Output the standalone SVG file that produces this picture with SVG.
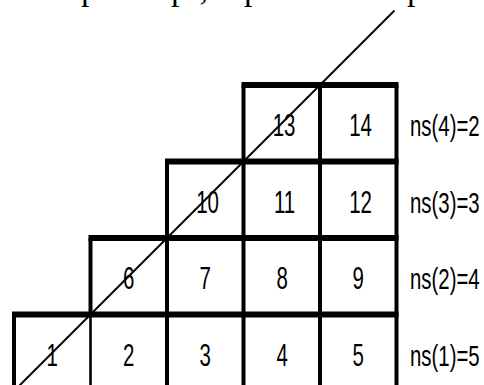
<svg xmlns="http://www.w3.org/2000/svg" width="484" height="385" viewBox="0 0 484 385">
<style>
.num{font-family:"Liberation Sans",Arial,sans-serif;font-size:31px;fill:#000;text-anchor:middle}
.lbl{font-family:"Liberation Sans",Arial,sans-serif;font-size:30px;fill:#000;text-anchor:start}
.frag{font-family:"Liberation Serif","Times New Roman",serif;font-size:34px;fill:#000}
.h{fill:#000}
.cell{fill:none;stroke:none}
</style>
<rect width="484" height="385" fill="#fff"/>
<g id="top-fragments">
<text class="frag" x="81" y="-0.5">p</text>
<text class="frag" x="171" y="-0.5">p</text>
<text class="frag" x="199.5" y="-0.5">,</text>
<text class="frag" x="244" y="-0.5">p</text>
<text class="frag" x="407" y="-0.5">p</text>
</g>
<g id="grid">
<rect class="h" x="241.5" y="82" width="157" height="6"/>
<rect class="h" x="165" y="158.5" width="233.5" height="6"/>
<rect class="h" x="88.5" y="235" width="310" height="6"/>
<rect class="h" x="12" y="311.5" width="386.5" height="6"/>
<rect class="h" x="12" y="314.5" width="4" height="80"/>
<rect class="h" x="89.2" y="314.5" width="2.6" height="80"/>
<rect class="h" x="88.5" y="238" width="4" height="78"/>
<rect class="h" x="165" y="161.5" width="4" height="233"/>
<rect class="h" x="241.5" y="85" width="4" height="310"/>
<rect class="h" x="318" y="85" width="4" height="310"/>
<rect class="h" x="394.5" y="85" width="4" height="310"/>
</g>
<g id="c1"><rect class="cell" x="14" y="314.5" width="76.5" height="76.5"/><text class="num" transform="translate(52.25,365.5) scale(0.66,1)">1</text></g>
<g id="c2"><rect class="cell" x="90.5" y="314.5" width="76.5" height="76.5"/><text class="num" transform="translate(128.75,365.5) scale(0.66,1)">2</text></g>
<g id="c3"><rect class="cell" x="167" y="314.5" width="76.5" height="76.5"/><text class="num" transform="translate(205.25,365.5) scale(0.66,1)">3</text></g>
<g id="c4"><rect class="cell" x="243.5" y="314.5" width="76.5" height="76.5"/><text class="num" transform="translate(282.25,365.5) scale(0.66,1)">4</text></g>
<g id="c5"><rect class="cell" x="320" y="314.5" width="76.5" height="76.5"/><text class="num" transform="translate(358.25,365.5) scale(0.66,1)">5</text></g>
<g id="c6"><rect class="cell" x="90.5" y="238" width="76.5" height="76.5"/><text class="num" transform="translate(128.75,289) scale(0.66,1)">6</text></g>
<g id="c7"><rect class="cell" x="167" y="238" width="76.5" height="76.5"/><text class="num" transform="translate(205.25,289) scale(0.66,1)">7</text></g>
<g id="c8"><rect class="cell" x="243.5" y="238" width="76.5" height="76.5"/><text class="num" transform="translate(282.25,289) scale(0.66,1)">8</text></g>
<g id="c9"><rect class="cell" x="320" y="238" width="76.5" height="76.5"/><text class="num" transform="translate(358.25,289) scale(0.66,1)">9</text></g>
<g id="c10"><rect class="cell" x="167" y="161.5" width="76.5" height="76.5"/><text class="num" transform="translate(207.5,212.5) scale(0.66,1)">10</text></g>
<g id="c11"><rect class="cell" x="243.5" y="161.5" width="76.5" height="76.5"/><text class="num" transform="translate(284.5,212.5) scale(0.66,1)">11</text></g>
<g id="c12"><rect class="cell" x="320" y="161.5" width="76.5" height="76.5"/><text class="num" transform="translate(360.5,212.5) scale(0.66,1)">12</text></g>
<g id="c13"><rect class="cell" x="243.5" y="85" width="76.5" height="76.5"/><text class="num" transform="translate(284,136) scale(0.66,1)">13</text></g>
<g id="c14"><rect class="cell" x="320" y="85" width="76.5" height="76.5"/><text class="num" transform="translate(360.5,136) scale(0.66,1)">14</text></g>
<g id="labels">
<text class="lbl" transform="translate(410,136) scale(0.68,1)">ns(4)=2</text>
<text class="lbl" transform="translate(410,212.5) scale(0.68,1)">ns(3)=3</text>
<text class="lbl" transform="translate(410,289) scale(0.68,1)">ns(2)=4</text>
<text class="lbl" transform="translate(410,365.5) scale(0.68,1)">ns(1)=5</text>
</g>
<g id="connectors">
<line x1="19.5" y1="385.5" x2="394.5" y2="10.5" stroke="#000" stroke-width="2"/>
</g>
</svg>
